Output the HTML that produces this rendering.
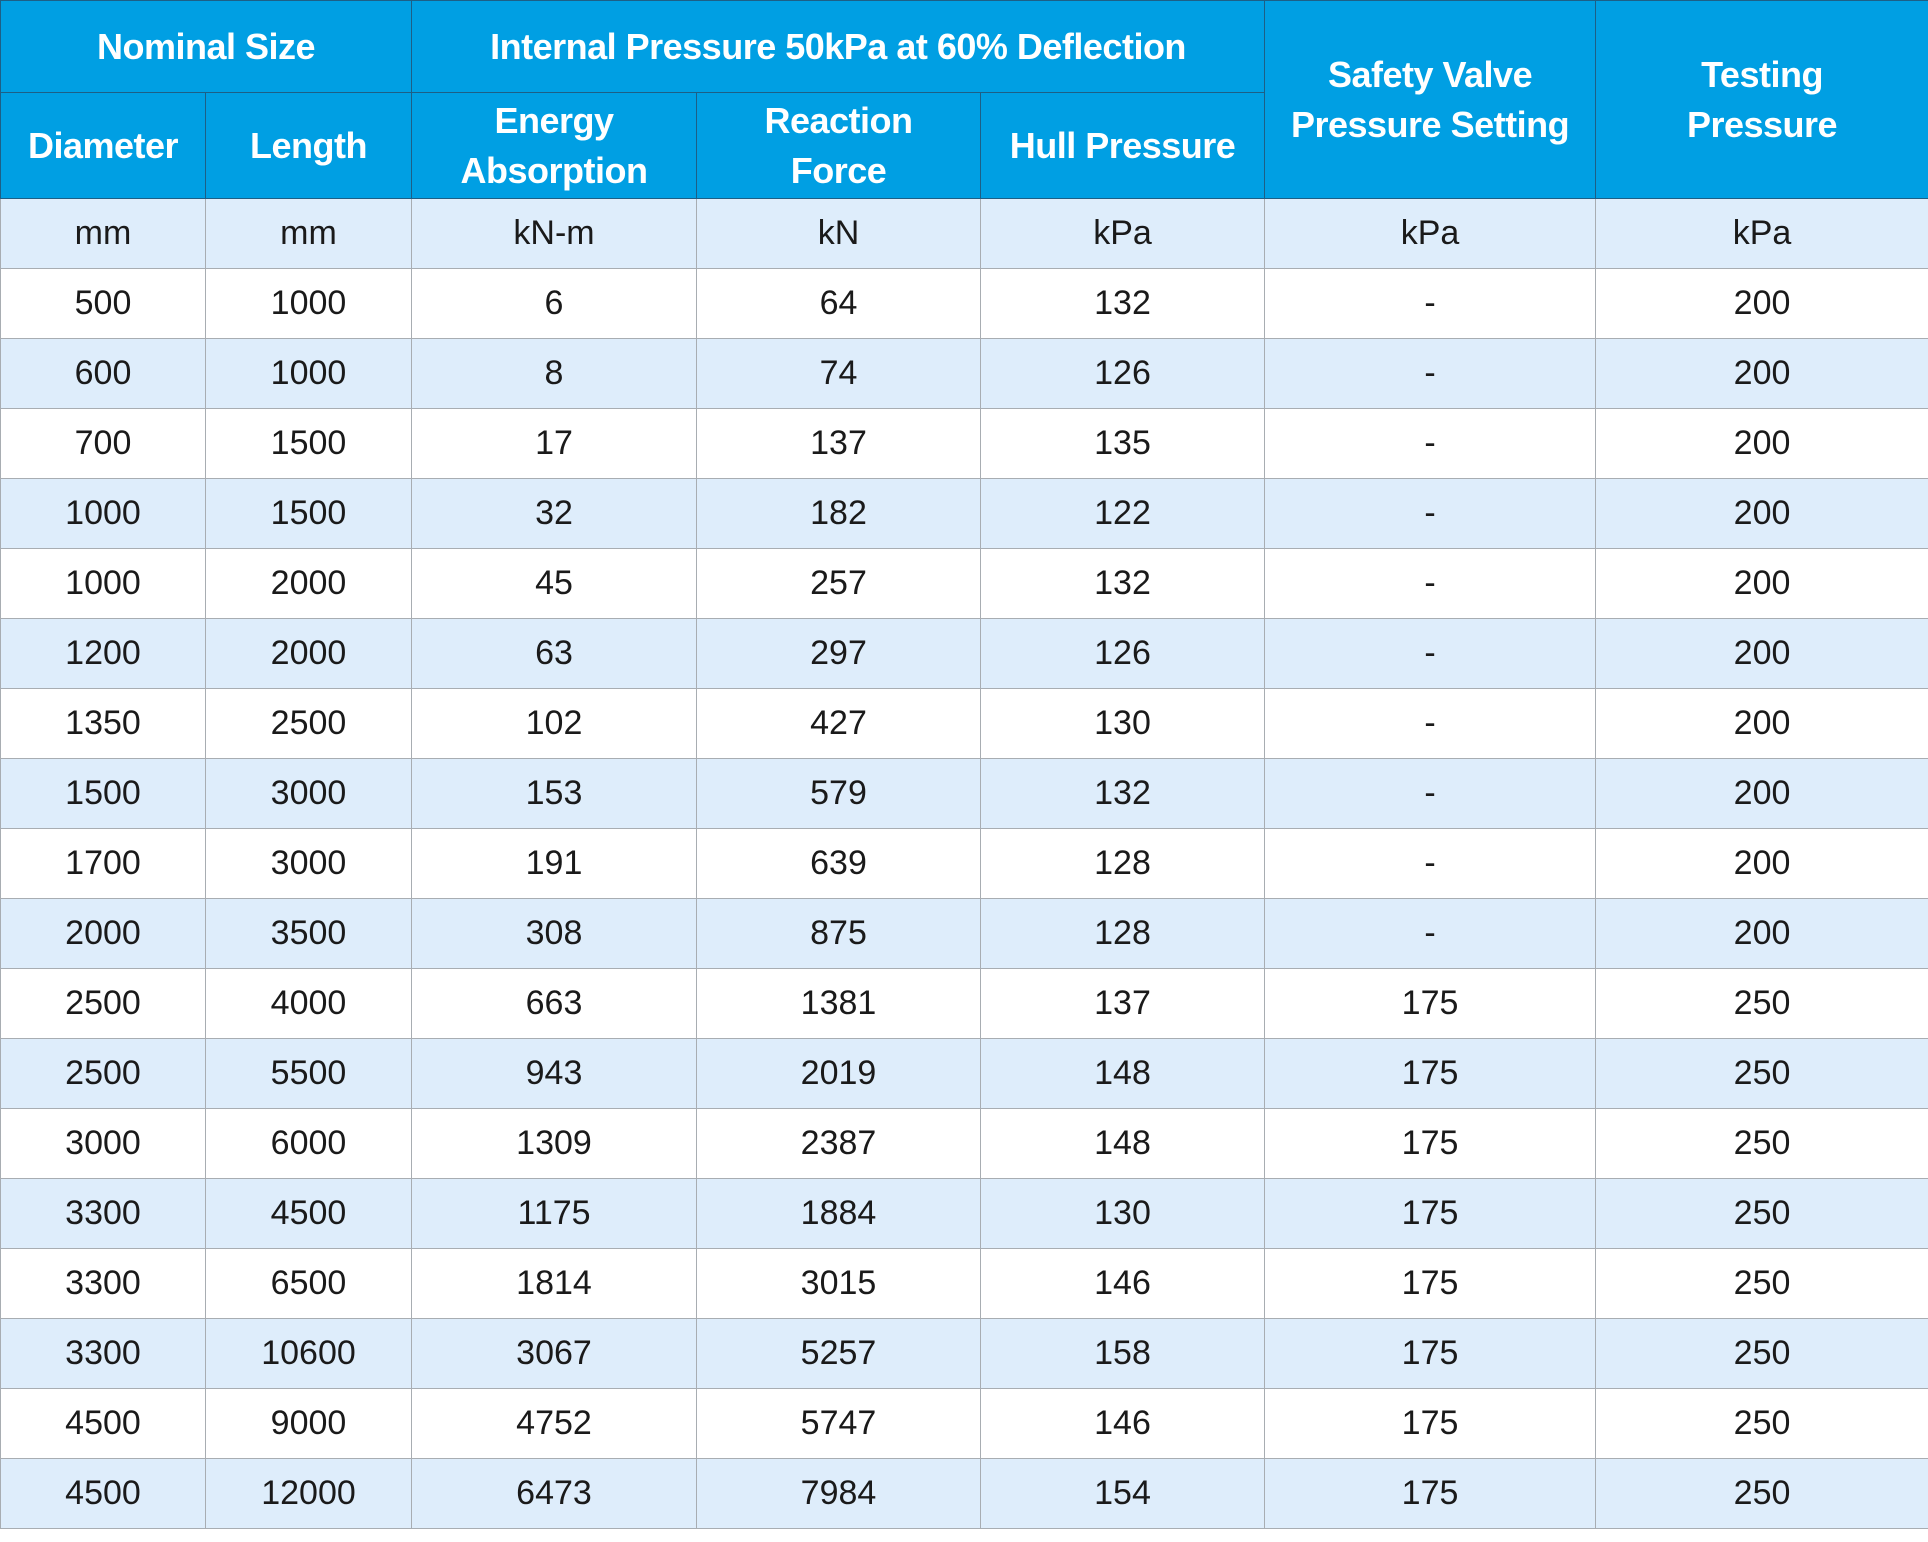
<!DOCTYPE html>
<html><head><meta charset="utf-8"><style>
html,body{margin:0;padding:0;background:#fff;width:1928px;height:1542px;overflow:hidden}
table{border-collapse:collapse;table-layout:fixed;position:absolute;left:0;top:0;width:1928px}
td,th{padding:0;text-align:center;vertical-align:middle;font-family:"Liberation Sans",sans-serif;}
th{background:#009fe3;color:#fff;font-weight:bold;font-size:36px;line-height:50px;border:1px solid #1d5f86;letter-spacing:-0.5px}
td{font-size:34px;color:#1a1a1a;border:1px solid #a8adb2;height:69px}
tr.u td{height:69px}
tr.a td{background:#deedfb}
</style></head><body>
<table>
<colgroup><col style="width:205px"><col style="width:206px"><col style="width:285px"><col style="width:284px"><col style="width:284px"><col style="width:331px"><col style="width:333px"></colgroup>
<tr style="height:92px"><th colspan="2">Nominal Size</th><th colspan="3">Internal Pressure 50kPa at 60% Deflection</th><th rowspan="2">Safety Valve<br>Pressure Setting</th><th rowspan="2">Testing<br>Pressure</th></tr>
<tr style="height:106px"><th>Diameter</th><th>Length</th><th>Energy<br>Absorption</th><th>Reaction<br>Force</th><th>Hull Pressure</th></tr>
<tr class="a u"><td>mm</td><td>mm</td><td>kN-m</td><td>kN</td><td>kPa</td><td>kPa</td><td>kPa</td></tr>
<tr><td>500</td><td>1000</td><td>6</td><td>64</td><td>132</td><td>-</td><td>200</td></tr>
<tr class="a"><td>600</td><td>1000</td><td>8</td><td>74</td><td>126</td><td>-</td><td>200</td></tr>
<tr><td>700</td><td>1500</td><td>17</td><td>137</td><td>135</td><td>-</td><td>200</td></tr>
<tr class="a"><td>1000</td><td>1500</td><td>32</td><td>182</td><td>122</td><td>-</td><td>200</td></tr>
<tr><td>1000</td><td>2000</td><td>45</td><td>257</td><td>132</td><td>-</td><td>200</td></tr>
<tr class="a"><td>1200</td><td>2000</td><td>63</td><td>297</td><td>126</td><td>-</td><td>200</td></tr>
<tr><td>1350</td><td>2500</td><td>102</td><td>427</td><td>130</td><td>-</td><td>200</td></tr>
<tr class="a"><td>1500</td><td>3000</td><td>153</td><td>579</td><td>132</td><td>-</td><td>200</td></tr>
<tr><td>1700</td><td>3000</td><td>191</td><td>639</td><td>128</td><td>-</td><td>200</td></tr>
<tr class="a"><td>2000</td><td>3500</td><td>308</td><td>875</td><td>128</td><td>-</td><td>200</td></tr>
<tr><td>2500</td><td>4000</td><td>663</td><td>1381</td><td>137</td><td>175</td><td>250</td></tr>
<tr class="a"><td>2500</td><td>5500</td><td>943</td><td>2019</td><td>148</td><td>175</td><td>250</td></tr>
<tr><td>3000</td><td>6000</td><td>1309</td><td>2387</td><td>148</td><td>175</td><td>250</td></tr>
<tr class="a"><td>3300</td><td>4500</td><td>1175</td><td>1884</td><td>130</td><td>175</td><td>250</td></tr>
<tr><td>3300</td><td>6500</td><td>1814</td><td>3015</td><td>146</td><td>175</td><td>250</td></tr>
<tr class="a"><td>3300</td><td>10600</td><td>3067</td><td>5257</td><td>158</td><td>175</td><td>250</td></tr>
<tr><td>4500</td><td>9000</td><td>4752</td><td>5747</td><td>146</td><td>175</td><td>250</td></tr>
<tr class="a"><td>4500</td><td>12000</td><td>6473</td><td>7984</td><td>154</td><td>175</td><td>250</td></tr>
</table>
</body></html>
